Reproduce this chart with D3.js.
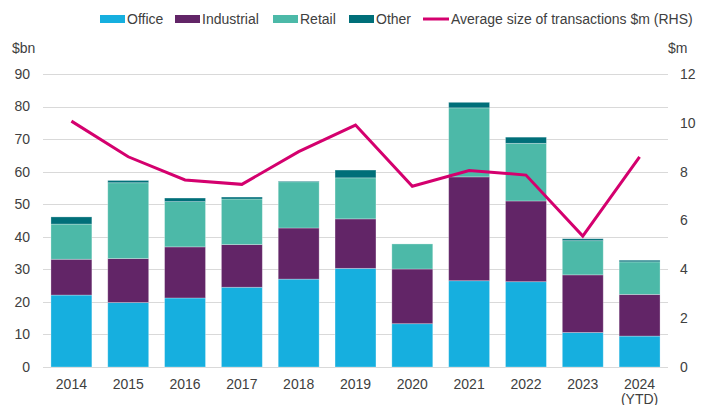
<!DOCTYPE html>
<html>
<head>
<meta charset="utf-8">
<script src="https://cdn.jsdelivr.net/npm/d3@7"></script>
<style>
  body { margin: 0; background: #fff; }
  svg { display: block; font-family: "Liberation Sans", Arial, sans-serif; }
</style>
</head>
<body>
<svg id="chart"></svg>
<script>
const years = ['2014', '2015', '2016', '2017', '2018', '2019', '2020', '2021', '2022', '2023', '2024'];
const yearLabels = ['2014', '2015', '2016', '2017', '2018', '2019', '2020', '2021', '2022', '2023', '2024\n(YTD)'];
const office = [22.1, 19.8, 21.2, 24.5, 27.0, 30.3, 13.3, 26.5, 26.2, 10.6, 9.5];
const industrial = [11.0, 13.5, 15.7, 13.1, 15.7, 15.2, 16.8, 31.9, 24.8, 17.7, 12.8];
const retail = [10.8, 23.3, 13.9, 14.0, 14.2, 12.6, 7.7, 21.2, 17.7, 10.5, 10.0];
const other = [2.2, 0.7, 1.1, 0.6, 0.2, 2.4, 0, 1.7, 1.9, 0.6, 0.5];
const avgSize = [10.07, 8.61, 7.66, 7.48, 8.82, 9.91, 7.40, 8.05, 7.86, 5.36, 8.61];
const leftTicks = [0, 10, 20, 30, 40, 50, 60, 70, 80, 90];
const rightTicks = [0, 2, 4, 6, 8, 10, 12];

const width = 709, height = 405;
const plotLeft = 43, plotRight = 668, plotTop = 74, plotBottom = 367;
const textColor = '#404040';

const seriesKeys = ['Office', 'Industrial', 'Retail', 'Other'];
const colors = { Office: '#16afdf', Industrial: '#622567', Retail: '#4cb9a8', Other: '#006f79' };
const lineColor = '#d4006e';

const rows = years.map((y, i) => ({
  year: y, Office: office[i], Industrial: industrial[i], Retail: retail[i], Other: other[i]
}));

const svg = d3.select('#chart')
  .attr('width', width)
  .attr('height', height);

const x = d3.scaleBand()
  .domain(years)
  .range([plotLeft, plotRight])
  .paddingInner(0.28)
  .paddingOuter(0.14);

const yL = d3.scaleLinear().domain([0, 90]).range([plotBottom, plotTop]);
const yR = d3.scaleLinear().domain([0, 12]).range([plotBottom, plotTop]);

// gridlines
svg.append('g')
  .selectAll('line')
  .data(leftTicks)
  .enter()
  .append('line')
  .attr('x1', plotLeft)
  .attr('x2', plotRight)
  .attr('y1', d => Math.round(yL(d)) + 0.5)
  .attr('y2', d => Math.round(yL(d)) + 0.5)
  .attr('stroke', '#d9d9d9')
  .attr('stroke-width', 1);

// stacked bars
const stack = d3.stack().keys(seriesKeys);
const layers = stack(rows);

svg.append('g')
  .selectAll('g')
  .data(layers)
  .enter()
  .append('g')
  .attr('fill', d => colors[d.key])
  .selectAll('rect')
  .data(d => d.filter(s => s[1] - s[0] > 0))
  .enter()
  .append('rect')
  .attr('x', d => x(d.data.year))
  .attr('width', x.bandwidth())
  .attr('y', d => yL(d[1]))
  .attr('height', d => yL(d[0]) - yL(d[1]))
  .attr('stroke', '#ffffff')
  .attr('stroke-opacity', 0.35)
  .attr('stroke-width', 0.8);

// line (RHS)
const line = d3.line()
  .x((d, i) => x(years[i]) + x.bandwidth() / 2)
  .y(d => yR(d));

svg.append('path')
  .datum(avgSize)
  .attr('d', line)
  .attr('fill', 'none')
  .attr('stroke', lineColor)
  .attr('stroke-width', 3);

// left axis labels
svg.append('g')
  .selectAll('text')
  .data(leftTicks)
  .enter()
  .append('text')
  .attr('x', 30)
  .attr('y', d => yL(d))
  .attr('dy', '0.35em')
  .attr('text-anchor', 'end')
  .attr('font-size', 14)
  .attr('fill', textColor)
  .text(d => d);

// right axis labels
svg.append('g')
  .selectAll('text')
  .data(rightTicks)
  .enter()
  .append('text')
  .attr('x', 680)
  .attr('y', d => yR(d))
  .attr('dy', '0.35em')
  .attr('text-anchor', 'start')
  .attr('font-size', 14)
  .attr('fill', textColor)
  .text(d => d);

// x labels
const xl = svg.append('g')
  .selectAll('text')
  .data(years)
  .enter()
  .append('text')
  .attr('text-anchor', 'middle')
  .attr('font-size', 14)
  .attr('fill', textColor);

xl.selectAll('tspan')
  .data((d, i) => yearLabels[i].split('\n').map(t => ({ t, year: d })))
  .enter()
  .append('tspan')
  .attr('x', d => x(d.year) + x.bandwidth() / 2)
  .attr('y', (d, j) => 389 + j * 15)
  .text(d => d.t);

// unit labels
svg.append('text')
  .attr('x', 12).attr('y', 53)
  .attr('font-size', 14).attr('fill', textColor)
  .text('$bn');
svg.append('text')
  .attr('x', 668).attr('y', 53)
  .attr('font-size', 14).attr('fill', textColor)
  .text('$m');

// legend
const legendItems = [
  { label: 'Office', x: 100, type: 'rect', color: colors.Office },
  { label: 'Industrial', x: 175, type: 'rect', color: colors.Industrial },
  { label: 'Retail', x: 273, type: 'rect', color: colors.Retail },
  { label: 'Other', x: 349, type: 'rect', color: colors.Other },
  { label: 'Average size of transactions $m (RHS)', x: 423, type: 'line', color: lineColor }
];

const lg = svg.append('g')
  .selectAll('g')
  .data(legendItems)
  .enter()
  .append('g')
  .attr('transform', d => `translate(${d.x},19)`);

lg.filter(d => d.type === 'rect')
  .append('rect')
  .attr('x', 0).attr('y', -4)
  .attr('width', 25).attr('height', 8)
  .attr('fill', d => d.color);

lg.filter(d => d.type === 'line')
  .append('line')
  .attr('x1', 0).attr('x2', 26)
  .attr('y1', 0).attr('y2', 0)
  .attr('stroke', d => d.color)
  .attr('stroke-width', 3);

lg.append('text')
  .attr('x', d => d.type === 'line' ? 28 : 27)
  .attr('y', 0)
  .attr('dy', '0.35em')
  .attr('font-size', 14)
  .attr('fill', textColor)
  .text(d => d.label);
</script>
</body>
</html>
